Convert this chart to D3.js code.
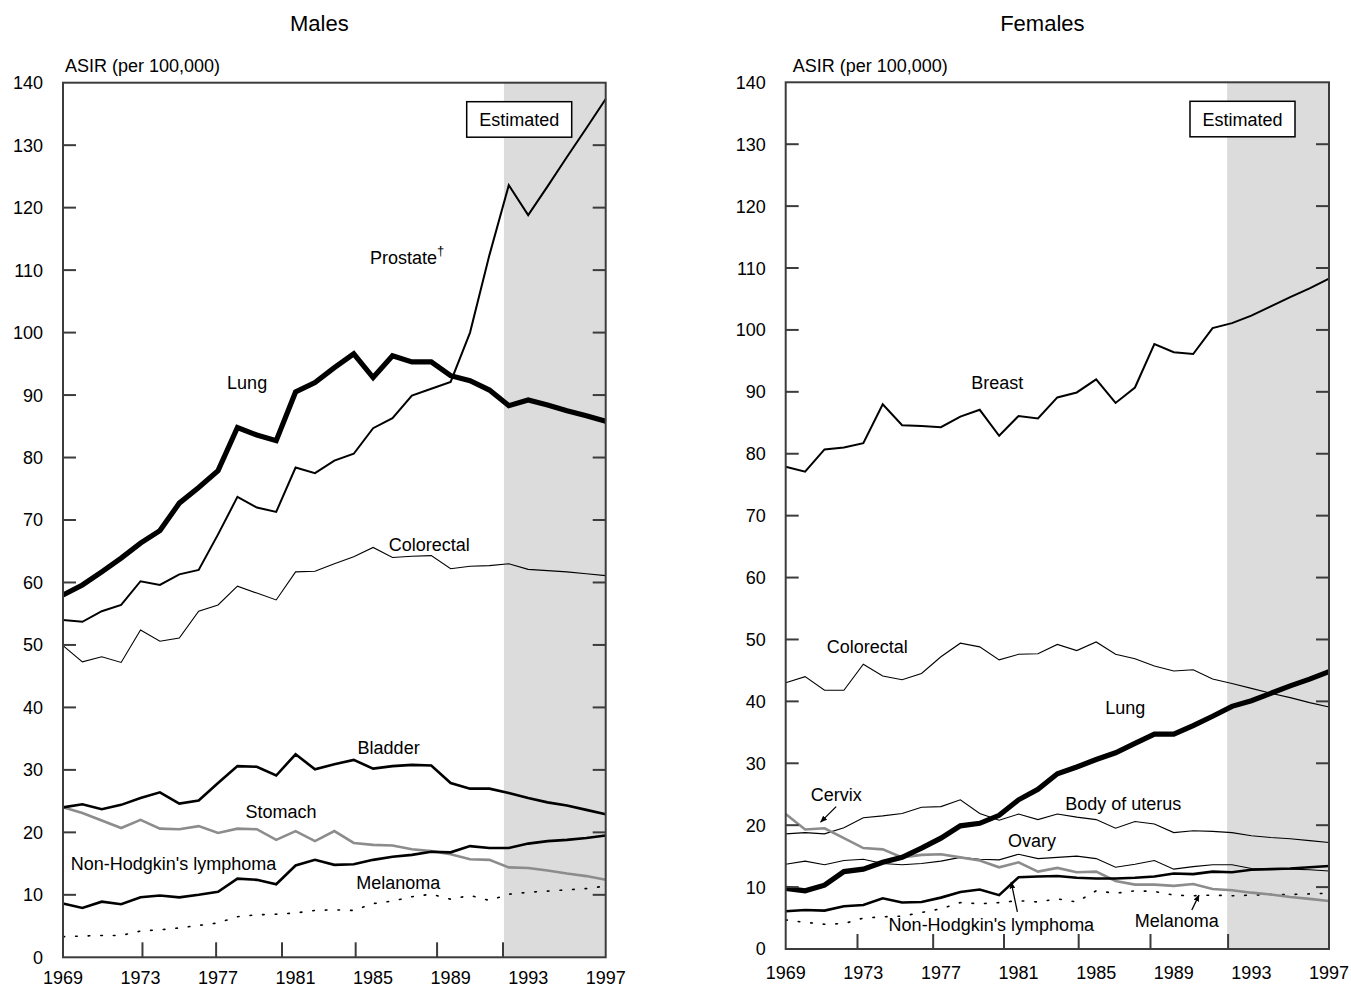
<!DOCTYPE html>
<html>
<head>
<meta charset="utf-8">
<script src="https://cdn.jsdelivr.net/npm/d3@7"></script>
<style>
  html, body { margin: 0; padding: 0; background: #fff; }
  svg { display: block; }
  text { font-family: "Liberation Sans", Arial, Helvetica, sans-serif; fill: #000; }
</style>
</head>
<body>
<svg id="chart" width="1351" height="990"></svg>
<script>
// ---------------- DATA ----------------
const years = [1969,1970,1971,1972,1973,1974,1975,1976,1977,1978,1979,1980,1981,1982,1983,
               1984,1985,1986,1987,1988,1989,1990,1991,1992,1993,1994,1995,1996,1997];

const yTickValues = [0,10,20,30,40,50,60,70,80,90,100,110,120,130,140];
const xTickLabels = [1969,1973,1977,1981,1985,1989,1993,1997];
const xTickMarksMales = [1973.1,1976.9,1980.3,1984.1,1988.3,1991.7];
const xTickMarksFemales = [1972.7,1976.6,1980.25,1984.1,1987.8,1991.8];
const estimatedStart = 1991.75;

// Males
const maleLung = [58.0,59.6,61.7,63.9,66.3,68.3,72.7,75.2,77.9,84.8,83.6,82.7,90.5,92.0,94.4,96.6,92.8,96.3,95.3,95.3,93.1,92.3,90.8,88.3,89.2,88.4,87.5,86.7,85.8];
const maleProstate = [54.0,53.7,55.4,56.4,60.2,59.6,61.3,62.0,67.7,73.7,72.0,71.3,78.4,77.5,79.5,80.6,84.7,86.3,89.9,91.0,92.1,100.0,112.4,123.6,118.8,123.4,128.1,132.7,137.4];
const maleColorectal = [49.9,47.3,48.1,47.2,52.4,50.6,51.1,55.4,56.4,59.4,58.3,57.2,61.7,61.8,63.0,64.1,65.6,64.0,64.2,64.3,62.2,62.6,62.7,63.0,62.1,61.9,61.7,61.4,61.1];
const maleBladder = [24.0,24.5,23.7,24.4,25.5,26.4,24.6,25.1,27.9,30.6,30.5,29.1,32.5,30.1,30.9,31.6,30.2,30.6,30.8,30.7,27.9,27.0,27.0,26.3,25.5,24.8,24.3,23.6,22.9];
const maleStomach = [24.0,23.1,21.9,20.7,22.0,20.6,20.5,21.0,19.9,20.6,20.5,18.8,20.2,18.6,20.2,18.3,18.0,17.9,17.3,17.0,16.5,15.7,15.6,14.4,14.3,13.9,13.4,13.0,12.4];
const maleNHL = [8.6,7.9,8.9,8.5,9.6,9.9,9.6,10.0,10.5,12.6,12.4,11.7,14.7,15.6,14.8,14.9,15.6,16.1,16.4,16.9,16.8,17.8,17.5,17.5,18.2,18.6,18.8,19.1,19.5];
const maleMelanoma = [3.3,3.4,3.5,3.5,4.2,4.4,4.7,5.1,5.5,6.5,6.8,6.9,7.1,7.5,7.6,7.5,8.6,9.0,9.7,10.1,9.3,9.9,9.1,10.1,10.4,10.6,10.8,11.0,11.4];

// Females
const femBreast = [77.9,77.1,80.7,81.0,81.7,88.0,84.6,84.5,84.3,86.0,87.1,82.9,86.1,85.7,89.1,89.9,92.0,88.2,90.7,97.7,96.4,96.1,100.3,101.1,102.3,103.8,105.3,106.7,108.3];
const femColorectal = [43.0,44.0,41.8,41.8,46.0,44.1,43.5,44.5,47.2,49.4,48.8,46.7,47.6,47.7,49.2,48.2,49.6,47.6,46.9,45.7,44.9,45.1,43.6,42.9,42.1,41.3,40.6,39.8,39.1];
const femLung = [9.8,9.4,10.3,12.5,12.9,14.0,14.8,16.3,17.9,19.9,20.3,21.6,24.1,25.8,28.3,29.4,30.6,31.7,33.2,34.7,34.7,36.1,37.6,39.2,40.1,41.3,42.5,43.6,44.8];
const femCervix = [21.8,19.3,19.5,17.9,16.3,16.1,14.8,15.2,15.3,14.8,14.3,13.2,14.0,12.5,13.1,12.4,12.5,11.0,10.4,10.4,10.2,10.5,9.7,9.5,9.1,8.8,8.4,8.1,7.75];
const femUterus = [18.6,18.8,18.6,19.6,21.2,21.5,21.9,22.9,23.0,24.1,21.9,20.8,21.8,20.9,21.8,21.3,20.9,19.5,20.6,20.2,18.8,19.1,19.0,18.8,18.3,18.0,17.8,17.5,17.2];
const femOvary = [13.7,14.2,13.6,14.3,14.5,13.8,13.6,13.8,14.2,14.8,14.5,14.4,15.3,14.6,14.8,15.0,14.6,13.2,13.7,14.3,12.9,13.3,13.6,13.6,13.0,12.9,12.9,12.8,12.6];
const femNHL = [6.1,6.3,6.2,6.9,7.1,8.2,7.5,7.6,8.3,9.2,9.6,8.7,11.6,11.7,11.8,11.5,11.4,11.4,11.5,11.7,12.2,12.1,12.5,12.4,12.8,12.9,13.0,13.2,13.4];
const femMelanoma = [4.7,4.3,4.0,4.1,5.0,5.2,5.3,5.9,6.5,7.5,7.3,7.5,7.8,7.6,8.1,7.6,9.4,9.0,9.4,9.3,8.7,8.6,8.7,8.6,8.7,8.8,8.8,8.9,9.0];

// ---------------- STYLES ----------------
const ST = {
  thick:  {stroke:"#000", width:5.2},
  med:    {stroke:"#000", width:2.6},
  prost:  {stroke:"#000", width:2.0},
  thin:   {stroke:"#000", width:1.1},
  gray:   {stroke:"#8c8c8c", width:2.6},
  dot:    {stroke:"#000", width:1.6, dash:"1.6,11"}
};

const svg = d3.select("#chart");
svg.append("defs").append("marker")
  .attr("id","arrow").attr("viewBox","0 0 10 10").attr("refX",9).attr("refY",5)
  .attr("markerWidth",7).attr("markerHeight",7).attr("markerUnits","userSpaceOnUse")
  .attr("orient","auto")
  .append("path").attr("d","M0,1 L10,5 L0,9 Z").attr("fill","#000");

function panel(cfg) {
  const x = d3.scaleLinear().domain([1969,1997]).range([cfg.x0, cfg.x1]);
  const y = d3.scaleLinear().domain([0,140]).range([cfg.y1, cfg.y0]);
  const g = svg.append("g");

  // shaded estimated region
  g.append("rect")
    .attr("x", x(estimatedStart)).attr("y", y(140))
    .attr("width", x(1997) - x(estimatedStart)).attr("height", y(0) - y(140))
    .attr("fill", "#dcdcdc");

  // series
  const line = d3.line().x((d,i) => x(years[i])).y(d => y(d));
  cfg.series.forEach(s => {
    const st = ST[s.style];
    g.append("path").datum(s.values)
      .attr("d", line)
      .attr("fill","none")
      .attr("stroke", st.stroke)
      .attr("stroke-width", st.width)
      .attr("stroke-linejoin","miter")
      .attr("stroke-dasharray", st.dash || null)
      .attr("stroke-linecap", st.dash ? "round" : "butt");
  });

  // frame
  const frameColor = "#3c3c3c";
  g.append("rect")
    .attr("x", x(1969)).attr("y", y(140))
    .attr("width", x(1997)-x(1969)).attr("height", y(0)-y(140))
    .attr("fill","none").attr("stroke", frameColor).attr("stroke-width", 2);

  // y ticks inward both sides
  yTickValues.filter(v => v > 0 && v < 140).forEach(v => {
    g.append("line").attr("x1", x(1969)).attr("x2", x(1969)+13)
      .attr("y1", y(v)).attr("y2", y(v)).attr("stroke", frameColor).attr("stroke-width", 2);
    g.append("line").attr("x1", x(1997)-13).attr("x2", x(1997))
      .attr("y1", y(v)).attr("y2", y(v)).attr("stroke", frameColor).attr("stroke-width", 2);
  });
  // y labels
  yTickValues.forEach(v => {
    g.append("text").attr("x", x(1969) - 20).attr("y", y(v)).attr("dy","0.36em")
      .attr("text-anchor","end").attr("font-size", 18).text(v);
  });
  // x tick marks
  cfg.xMarks.forEach(t => {
    g.append("line").attr("x1", x(t)).attr("x2", x(t))
      .attr("y1", y(0)).attr("y2", y(0)-15).attr("stroke", frameColor).attr("stroke-width", 2);
  });
  // x labels
  xTickLabels.forEach(t => {
    g.append("text").attr("x", x(t)).attr("y", y(0) + cfg.xLabelGap)
      .attr("text-anchor","middle").attr("font-size", 18).text(t);
  });

  // axis title
  g.append("text").attr("x", x(1969) + cfg.asirDx).attr("y", 72)
    .attr("font-size", 18).text("ASIR (per 100,000)");
  // panel title
  g.append("text").attr("x", (x(1969)+x(1997))/2 - 15).attr("y", 31)
    .attr("text-anchor","middle").attr("font-size", 22).text(cfg.title);

  // Estimated box
  const bx = x(1997) - 139, by = y(140) + 19, bw = 105, bh = 35.5;
  g.append("rect").attr("x", bx).attr("y", by).attr("width", bw).attr("height", bh)
    .attr("fill","#fff").attr("stroke","#000").attr("stroke-width", 1.5);
  g.append("text").attr("x", bx + bw/2).attr("y", by + bh/2).attr("dy","0.36em")
    .attr("text-anchor","middle").attr("font-size", 18).text("Estimated");

  // series labels
  cfg.labels.forEach(l => {
    const t = g.append("text").attr("x", x(l.year)).attr("y", y(l.val))
      .attr("text-anchor", l.anchor || "middle").attr("font-size", 18).text(l.text);
    if (l.sup) {
      t.append("tspan").attr("font-size", 13).attr("dy", -9).text(l.sup);
    }
  });

  // arrows
  (cfg.arrows || []).forEach(a => {
    g.append("line")
      .attr("x1", x(a.from[0])).attr("y1", y(a.from[1]))
      .attr("x2", x(a.to[0])).attr("y2", y(a.to[1]))
      .attr("stroke","#000").attr("stroke-width", 1.3)
      .attr("marker-end","url(#arrow)");
  });
}

panel({
  title: "Males",
  x0: 63, x1: 605.7, y0: 82.7, y1: 957.3,
  xMarks: xTickMarksMales, xLabelGap: 26.5, asirDx: 2,
  series: [
    {values: maleMelanoma, style:"dot"},
    {values: maleColorectal, style:"thin"},
    {values: maleStomach, style:"gray"},
    {values: maleNHL, style:"med"},
    {values: maleBladder, style:"med"},
    {values: maleProstate, style:"prost"},
    {values: maleLung, style:"thick"}
  ],
  labels: [
    {text:"Prostate", sup:"†", year:1984.84, val:110.9, anchor:"start"},
    {text:"Lung", year:1978.5, val:90.9},
    {text:"Colorectal", year:1987.9, val:65.1},
    {text:"Bladder", year:1985.8, val:32.5},
    {text:"Stomach", year:1980.25, val:22.3},
    {text:"Non-Hodgkin's lymphoma", year:1974.7, val:13.9},
    {text:"Melanoma", year:1986.3, val:10.9}
  ]
});

panel({
  title: "Females",
  x0: 785.7, x1: 1329, y0: 82.3, y1: 949,
  xMarks: xTickMarksFemales, xLabelGap: 29.5, asirDx: 7,
  series: [
    {values: femMelanoma, style:"dot"},
    {values: femOvary, style:"thin"},
    {values: femUterus, style:"thin"},
    {values: femColorectal, style:"thin"},
    {values: femCervix, style:"gray"},
    {values: femNHL, style:"med"},
    {values: femBreast, style:"prost"},
    {values: femLung, style:"thick"}
  ],
  labels: [
    {text:"Breast", year:1979.9, val:90.5},
    {text:"Colorectal", year:1973.2, val:47.8},
    {text:"Lung", year:1986.5, val:38.0},
    {text:"Cervix", year:1971.6, val:23.96},
    {text:"Body of uterus", year:1986.4, val:22.45},
    {text:"Ovary", year:1981.7, val:16.4},
    {text:"Non-Hodgkin's lymphoma", year:1979.6, val:2.96},
    {text:"Melanoma", year:1989.15, val:3.6}
  ],
  arrows: [
    {from:[1971.6, 23.0], to:[1970.8, 20.5]},
    {from:[1980.94, 6.0], to:[1980.62, 10.8]},
    {from:[1989.93, 6.3], to:[1990.3, 8.7]}
  ]
});
</script>
</body>
</html>
